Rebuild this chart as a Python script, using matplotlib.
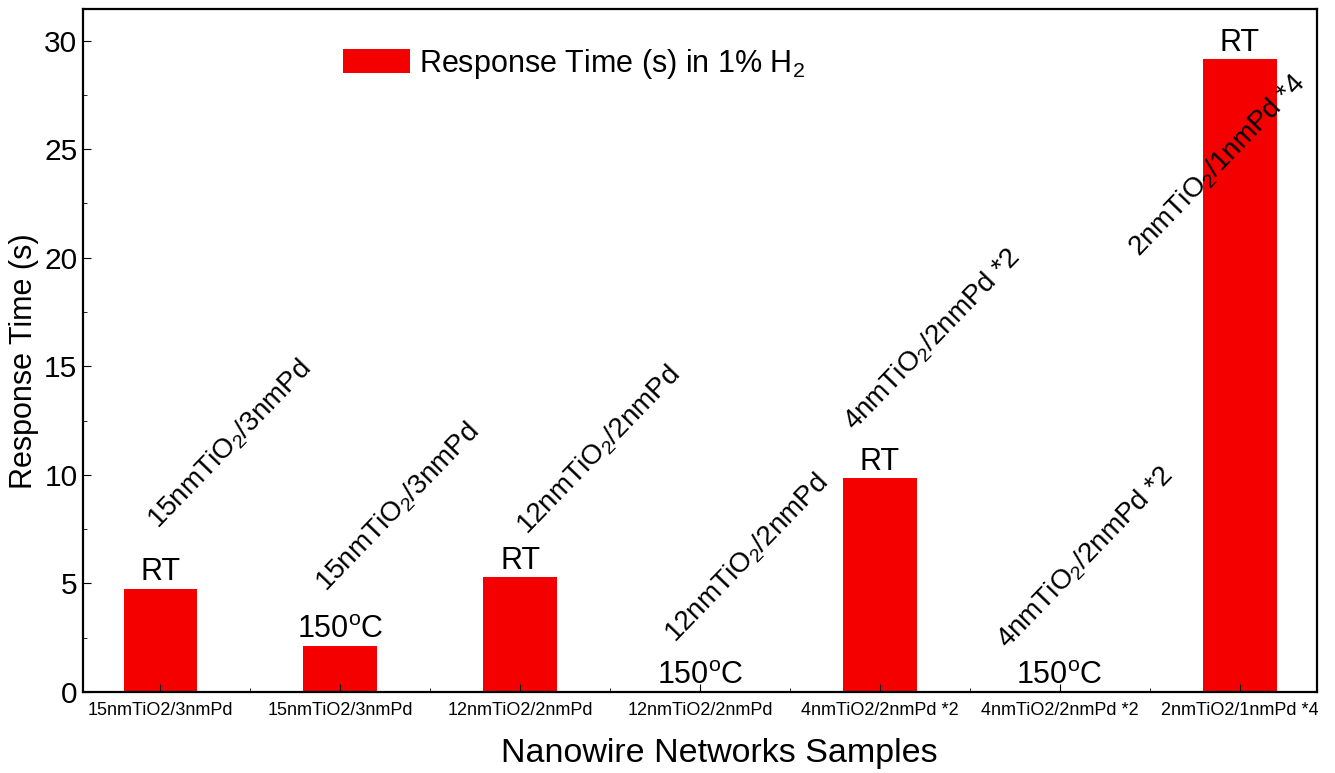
import numpy as np
import matplotlib
matplotlib.use('Agg')
from matplotlib import pyplot as plt
from matplotlib.ticker import MultipleLocator, FixedLocator

plt.rcParams['font.family'] = ['Liberation Sans', 'DejaVu Sans']
plt.rcParams['mathtext.fontset'] = 'custom'
plt.rcParams['mathtext.rm'] = 'Liberation Sans'
plt.rcParams['mathtext.it'] = 'Liberation Sans:italic'

## Samples and measured response times in 1% H2
samples = ['15nmTiO2/3nmPd', '15nmTiO2/3nmPd', '12nmTiO2/2nmPd', '12nmTiO2/2nmPd',
           '4nmTiO2/2nmPd *2', '4nmTiO2/2nmPd *2', '2nmTiO2/1nmPd *4']
resp_time = [4.75, 2.1, 5.3, 0.0, 9.85, 0.0, 29.15]
temps = ['RT', '150$^\\mathrm{o}$C', 'RT', '150$^\\mathrm{o}$C', 'RT', '150$^\\mathrm{o}$C', 'RT']
names = ['15nmTiO$_2$/3nmPd', '15nmTiO$_2$/3nmPd', '12nmTiO$_2$/2nmPd', '12nmTiO$_2$/2nmPd',
         '4nmTiO$_2$/2nmPd *2', '4nmTiO$_2$/2nmPd *2', '2nmTiO$_2$/1nmPd *4']

# where the slanted sample names start (data coords)
name_x = [-0.01, 0.92, 2.04, 2.86, 3.86, 4.71, 5.44]
name_y = [7.5, 4.6, 7.2, 2.25, 12.0, 1.95, 20.0]

red = '#f40000'
x = np.arange(len(samples))

fig = plt.figure(figsize=(13.35, 7.73), dpi=100)
ax = fig.add_axes([0.0622, 0.1048, 0.9243, 0.8834])

ax.bar(x, resp_time, width=0.41, color=red, label='Response Time (s) in 1% H$_2$')

for xi, v, t in zip(x, resp_time, temps):
    ax.annotate(t, (xi, v), xytext=(0, 1), textcoords='offset points',
                ha='center', va='bottom', fontsize=22)

for nx, ny, nm in zip(name_x, name_y, names):
    ax.text(nx, ny, nm, rotation=46, rotation_mode='anchor',
            ha='left', va='baseline', fontsize=20)

ax.set_xlim(-0.43, 6.43)
ax.set_ylim(0, 31.45)
ax.set_xticks(x)
ax.set_xticklabels(samples, fontsize=13)
ax.xaxis.set_minor_locator(FixedLocator(x[:-1] + 0.5))
ax.yaxis.set_major_locator(MultipleLocator(5))
ax.yaxis.set_minor_locator(MultipleLocator(2.5))
ax.tick_params(axis='y', which='major', labelsize=21.5, direction='in', length=6, pad=4)
ax.tick_params(axis='y', which='minor', direction='in', length=3)
ax.tick_params(axis='x', which='major', direction='in', length=6, pad=7)
ax.tick_params(axis='x', which='minor', direction='in', length=3)

for s in ax.spines.values():
    s.set_linewidth(1.6)

ax.set_xlabel('Nanowire Networks Samples', fontsize=24.5)
ax.set_ylabel('Response Time (s)', fontsize=22)
ax.xaxis.set_label_coords(0.516, -0.068)
ax.yaxis.set_label_coords(-0.036, 0.485)

ax.legend(loc='upper left', bbox_to_anchor=(0.188, 0.985), frameon=False,
          fontsize=22, handlelength=2.2, handleheight=0.85, handletextpad=0.3)

fig.savefig('out.png', dpi=100)
